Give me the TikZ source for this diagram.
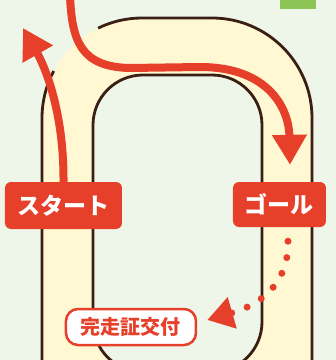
\documentclass[tikz,border=0pt]{standalone}
\usepackage{fontspec}
\newfontfamily\jpfont{Noto Sans CJK JP}
\usetikzlibrary{arrows.meta}
\definecolor{bgmint}{HTML}{EEF6EA}
\definecolor{trackfill}{HTML}{FFF8D2}
\definecolor{trackline}{HTML}{3B1E14}
\definecolor{runred}{HTML}{E6402B}
\definecolor{tabgreen}{HTML}{8DC456}
\tikzset{
  label box/.style={fill=runred, rounded corners=6pt, text=white, inner sep=0pt,
    font=\jpfont\bfseries\fontsize{23}{23}\selectfont},
  cert box/.style={fill=white, draw=runred, line width=2.5pt, rounded corners=12pt,
    text=runred, inner sep=0pt, font=\jpfont\bfseries\fontsize{20}{20}\selectfont},
  outline/.style={draw=trackline, line width=2.8pt},
  route/.style={draw=runred, line width=8pt, -{Triangle[length=30pt,width=33pt]}},
  dots/.style={draw=runred, line width=7pt, line cap=round, dash pattern=on 0pt off 16.5pt,
    -{Triangle[length=26pt,width=31pt]}}
}
\begin{document}
\begin{tikzpicture}[x=1pt,y=1pt]
  \useasboundingbox (0,0) rectangle (336,360);
  \clip (0,0) rectangle (336,360);
  \fill[bgmint] (0,0) rectangle (336,360);
  \fill[tabgreen] (280,351) rectangle (316,362);

  \fill[trackfill, even odd rule, rounded corners=100pt] (42,-120) rectangle (312,342)
    [rounded corners=50pt] (93,-12) rectangle (262,285);
  \draw[outline, rounded corners=50pt] (93,-12) rectangle (262,285);
  \draw[outline] (42,-120) -- (42,242) arc[start angle=180, end angle=152, radius=100pt];
  \draw[outline] (142,242) ++(116:100) arc[start angle=116, end angle=90, radius=100pt]
    -- (212,342) arc[start angle=90, end angle=0, radius=100pt] -- (312,-120);

  \node[label box, minimum width=117pt, minimum height=47pt] (start) at (63.5,154.5) {スタート};
  \node[label box, minimum width=93pt, minimum height=45pt] (goal) at (279.5,155.5) {ゴール};
  \node[cert box, minimum width=130pt, minimum height=36pt] (cert) at (131,33) {完走証交付};

  \coordinate (entry) at (70,364);
  \coordinate (exit) at (23,332);

  \draw[route] (start.north) .. controls (64,250) and (44,295) .. (exit);
  \draw[route] (entry) .. controls (72,320) and (80,293) .. (130,292) -- (200,293)
    .. controls (270,293) and (289,250) .. ([xshift=10.5pt,yshift=17pt]goal.north);
  \draw[dots] ([xshift=8.5pt,yshift=-14pt]goal.south) .. controls (289,85) and (270,58)
    .. ([xshift=10pt,yshift=7pt]cert.east);
\end{tikzpicture}
\end{document}
